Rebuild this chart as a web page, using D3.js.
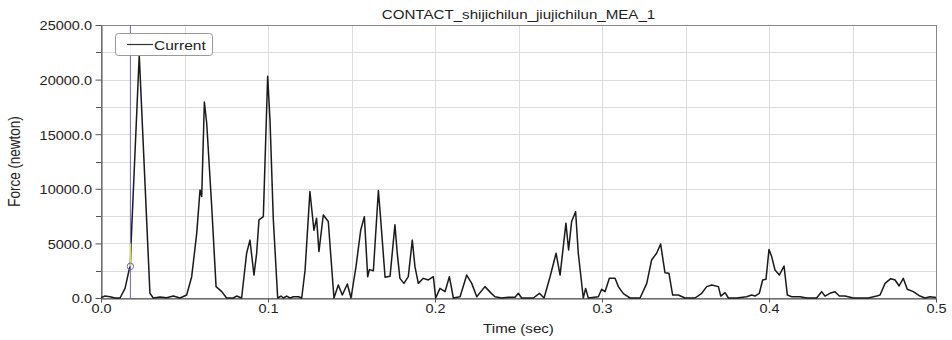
<!DOCTYPE html>
<html><head><meta charset="utf-8">
<script src="https://cdn.jsdelivr.net/npm/d3@7"></script>
<style>body{margin:0;background:#fff;}svg{display:block;font-family:"Liberation Sans",Arial,sans-serif;}</style>
</head><body><svg id="c" width="952" height="340"></svg>
<script>
const title = "CONTACT_shijichilun_jiujichilun_MEA_1";
const xLabel = "Time (sec)";
const yLabel = "Force (newton)";
const legendLabel = "Current";
const xTicks = [0, 0.1, 0.2, 0.3, 0.4, 0.5];
const xTickLabels = ["0.0", "0.1", "0.2", "0.3", "0.4", "0.5"];
const yTicks = [0, 5000, 10000, 15000, 20000, 25000];
const yTickLabels = ["0.0", "5000.0", "10000.0", "15000.0", "20000.0", "25000.0"];
const cursorTime = 0.0176;
const cursorValue = 2900;

const time = [0,0.0024,0.0054,0.0084,0.0114,0.0144,0.017,0.0176,0.018,0.0229,0.0293,0.0313,0.0353,0.0393,0.0433,0.0473,0.0513,0.0543,0.0573,0.0593,0.0603,0.0619,0.0633,0.0663,0.0689,0.0723,0.0752,0.0792,0.0812,0.0842,0.0872,0.0892,0.0916,0.0932,0.0946,0.0972,0.0998,0.1012,0.1032,0.1058,0.1078,0.1092,0.1112,0.1132,0.1152,0.1182,0.1202,0.1222,0.1251,0.1275,0.1291,0.1305,0.1331,0.1361,0.1375,0.1395,0.1421,0.1445,0.1475,0.1497,0.1527,0.1555,0.1577,0.1597,0.1607,0.1631,0.1661,0.1675,0.1701,0.1731,0.176,0.1774,0.179,0.1814,0.184,0.1864,0.188,0.19,0.193,0.196,0.199,0.2004,0.203,0.206,0.2086,0.211,0.215,0.219,0.222,0.225,0.2299,0.2339,0.2359,0.2399,0.2439,0.2479,0.2499,0.2519,0.2589,0.2625,0.2653,0.2689,0.2725,0.2749,0.2784,0.28,0.2818,0.2842,0.2858,0.2888,0.2902,0.2918,0.2978,0.2998,0.3018,0.3044,0.3078,0.3098,0.3128,0.3168,0.3228,0.3268,0.3297,0.3327,0.3351,0.3377,0.3401,0.3423,0.3457,0.3497,0.3557,0.3597,0.3627,0.3657,0.3697,0.3711,0.3737,0.3757,0.3807,0.3866,0.3896,0.3916,0.3942,0.3962,0.3982,0.4,0.4016,0.4036,0.4062,0.409,0.411,0.4136,0.4186,0.4226,0.4285,0.4315,0.4335,0.4365,0.4395,0.4421,0.4455,0.4505,0.4595,0.4645,0.4665,0.4695,0.4729,0.4755,0.4779,0.4804,0.4828,0.4864,0.4904,0.4934,0.4964,0.5];
const force = [30,180,120,0,0,880,2700,2900,5000,22250,430,0,100,20,180,0,270,1950,5900,9900,9300,17950,16000,8350,1040,580,0,0,180,0,4100,5300,2100,4100,7150,7450,20300,16300,7150,0,180,0,180,0,120,120,0,2550,9750,6200,7300,4250,7600,7000,4100,0,1190,270,1280,0,2870,6200,7450,1950,2600,2500,9850,7150,1900,2000,6700,4100,1800,1340,1950,5300,2870,1340,1800,1650,1950,0,880,580,1950,0,120,2100,1340,120,1040,400,120,0,60,60,430,0,0,430,0,1950,4100,2100,6850,4400,7000,7900,4100,0,880,0,120,800,580,1800,1800,1040,400,0,0,1340,3480,4100,4950,2320,2260,270,270,0,0,430,1040,1190,1040,180,490,0,0,120,270,180,430,1650,1710,4450,3790,2560,2100,2930,270,120,120,0,0,580,180,430,580,180,180,0,0,180,270,1340,1770,1650,1100,1800,800,580,180,0,120,50];

const SX = 1.21; // horizontal stretch of the text in the original picture
const svg = d3.select("#c");
const m = {left:101, right:936, top:25, bottom:298};
const x = d3.scaleLinear().domain([0,0.5]).range([m.left, m.right]);
const y = d3.scaleLinear().domain([0,25000]).range([m.bottom, m.top]);

// grid
const grid = svg.append("g").attr("stroke","#dcdcdc").attr("stroke-width",1);
d3.range(0,0.5001,0.05).forEach(v=>grid.append("line").attr("x1",Math.round(x(v))+0.5).attr("x2",Math.round(x(v))+0.5).attr("y1",m.top).attr("y2",m.bottom));
d3.range(0,25001,2500).forEach(v=>grid.append("line").attr("y1",Math.round(y(v))+0.5).attr("y2",Math.round(y(v))+0.5).attr("x1",m.left).attr("x2",m.right));

// frame
svg.append("rect").attr("x",m.left+0.5).attr("y",m.top+0.5).attr("width",m.right-m.left).attr("height",m.bottom-m.top).attr("fill","none").attr("stroke","#888");

// axes
const yAxis = d3.axisLeft(y).tickValues(yTicks).tickFormat((d,i)=>yTickLabels[i]).tickSize(6).tickSizeOuter(0);
const gy = svg.append("g").attr("transform",`translate(${m.left+0.5},0)`).call(yAxis);
gy.selectAll(".tick line").attr("stroke","#555");
gy.select(".domain").attr("stroke","#555");
gy.selectAll("text").attr("font-size",12).attr("fill","#222").attr("x",-9.5/SX).attr("dy","0.4em").attr("transform",`scale(${SX},1)`);
svg.append("g").selectAll("line").data([2500,7500,12500,17500,22500]).join("line")
  .attr("x1",m.left-5).attr("x2",m.left).attr("y1",d=>Math.round(y(d))+0.5).attr("y2",d=>Math.round(y(d))+0.5).attr("stroke","#555");

const xAxis = d3.axisBottom(x).tickValues(xTicks).tickFormat((d,i)=>xTickLabels[i]).tickSize(4).tickSizeOuter(0);
const gx = svg.append("g").attr("transform",`translate(0,${m.bottom+0.5})`).call(xAxis);
gx.selectAll(".tick line").attr("stroke","#555");
gx.select(".domain").attr("stroke","#555");
gx.selectAll("text").attr("font-size",12).attr("fill","#222").attr("y",6).attr("transform",`scale(${SX},1)`);

// titles
svg.append("text").attr("transform",`translate(${(m.left+m.right)/2},19) scale(${SX},1)`).attr("text-anchor","middle").attr("font-size",12.5).attr("fill","#222").text(title);
svg.append("text").attr("transform",`translate(${(m.left+m.right)/2},333) scale(${SX},1)`).attr("text-anchor","middle").attr("font-size",12.5).attr("fill","#222").text(xLabel);
svg.append("text").attr("transform",`translate(20,${(m.top+m.bottom)/2}) scale(${SX},1) rotate(-90)`).attr("text-anchor","middle").attr("font-size",13.5).attr("fill","#222").text(yLabel);

// data line
const pts = time.map((t,i)=>[t,force[i]]);
svg.append("path").datum(pts).attr("fill","none").attr("stroke","#1a1a1a").attr("stroke-width",1.5).attr("stroke-linejoin","round")
  .attr("d", d3.line().x(d=>x(d[0])).y(d=>y(d[1])));

// cursor
svg.append("line").attr("x1",x(cursorTime)).attr("x2",x(cursorTime)).attr("y1",m.top).attr("y2",m.bottom).attr("stroke","#6a6ac0").attr("stroke-width",1);
svg.append("line").attr("x1",x(cursorTime)).attr("x2",x(cursorTime)).attr("y1",y(cursorValue)).attr("y2",y(5000)).attr("stroke","#d8d860").attr("stroke-width",1.5);
svg.append("circle").attr("cx",x(cursorTime)).attr("cy",y(cursorValue)).attr("r",3.2).attr("fill","none").attr("stroke","#6a6ac0").attr("stroke-width",1);

// legend
const lg = svg.append("g");
lg.append("rect").attr("x",115.5).attr("y",33.5).attr("width",97).attr("height",22).attr("rx",3).attr("fill","#fff").attr("fill-opacity",0.9).attr("stroke","#999");
lg.append("line").attr("x1",127).attr("x2",153).attr("y1",44.5).attr("y2",44.5).attr("stroke","#333").attr("stroke-width",1.2);
lg.append("text").attr("transform",`translate(154,49.5) scale(1.15,1)`).attr("font-size",13.5).attr("fill","#222").text(legendLabel);
</script></body></html>
